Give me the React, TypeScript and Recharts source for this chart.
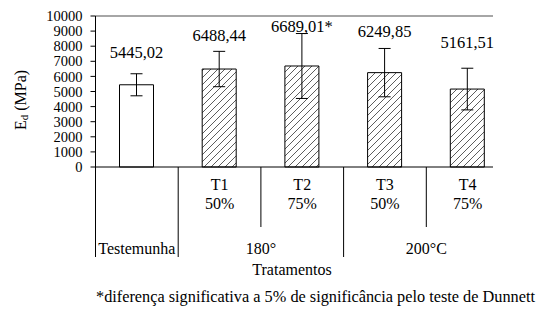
import React from "react";
import {
  BarChart,
  Bar,
  Cell,
  XAxis,
  YAxis,
  ErrorBar,
  LabelList,
  ReferenceLine,
} from "recharts";

const categories = ["Testemunha", "T1", "T2", "T3", "T4"];
const percents = ["", "50%", "75%", "50%", "75%"];
const temperatures = ["", "180°", "180°", "200°C", "200°C"];
const values = [5445.02, 6488.44, 6689.01, 6249.85, 5161.51];
const deviations = [730, 1170, 2150, 1600, 1380];
const significant = [false, false, true, false, false];
const yTicks = [0, 1000, 2000, 3000, 4000, 5000, 6000, 7000, 8000, 9000, 10000];

// how far each value label sits above its bar (the original places them by hand)
const labelLift = [32, 34, 39, 41, 47];

const FONT = "Liberation Serif";
// the original frame stops a little short of the last band
const FRAME_TRIM = 16;

const data = categories.map((name, i) => ({
  name,
  value: values[i],
  error: deviations[i],
  label: values[i].toFixed(2).replace(".", ",") + (significant[i] ? "*" : ""),
}));

function CategoryTick(props: any) {
  const { x, y, payload } = props;
  const i = payload.index;
  const half = payload.offset || 41.35;
  const n = categories.length;
  const longDrop = 90;
  const shortDrop = 60;
  const txt = { fontFamily: FONT, fontSize: 16, fill: "#000", textAnchor: "middle" as const, dominantBaseline: "central" as const };

  const parts: React.ReactNode[] = [];
  if (i === 0) {
    parts.push(<line key="l" x1={x - half} x2={x - half} y1={y} y2={y + longDrop} stroke="#000" />);
    parts.push(<text key="t" x={x} y={y + 81} {...txt}>{payload.value}</text>);
  } else {
    parts.push(<text key="t" x={x} y={y + 17} {...txt}>{payload.value}</text>);
    parts.push(<text key="p" x={x} y={y + 36} {...txt}>{percents[i]}</text>);
    if (temperatures[i - 1] === temperatures[i]) {
      parts.push(<text key="g" x={x - half} y={y + 81} {...txt}>{temperatures[i]}</text>);
    }
  }
  if (i < n - 1) {
    const drop = temperatures[i] === temperatures[i + 1] ? shortDrop : longDrop;
    parts.push(<line key="r" x1={x + half} x2={x + half} y1={y} y2={y + drop} stroke="#000" />);
  }
  return <g>{parts}</g>;
}

function ValueLabel(props: any) {
  const { x, y, width, index, value } = props;
  return (
    <text
      x={x + width / 2}
      y={y - labelLift[index]}
      textAnchor="middle"
      dominantBaseline="central"
      fontFamily={FONT}
      fontSize={16.5}
      fill="#000"
    >
      {value}
    </text>
  );
}

function YTitle() {
  return (
    <text
      transform="translate(20,100) rotate(-90)"
      textAnchor="middle"
      dominantBaseline="central"
      fontFamily={FONT}
      fontSize={16}
      fill="#000"
    >
      E<tspan fontSize={11} dy={4}>d</tspan>
      <tspan dy={-4}> (MPa)</tspan>
    </text>
  );
}

const trimmedLine = (color: string, w: number) => (p: any) => (
  <line x1={p.x1} y1={p.y1} x2={p.x2 - FRAME_TRIM} y2={p.y2} stroke={color} strokeWidth={w} />
);

export default function App() {
  return (
    <div style={{ position: "absolute", left: 0, top: 0, width: 539, height: 312, background: "#fff" }}>
      <BarChart
        width={539}
        height={312}
        data={data}
        margin={{ top: 16, right: 30, bottom: 0, left: 0 }}
      >
        <defs>
          <pattern id="hatch" width="7" height="7" patternUnits="userSpaceOnUse">
            <rect width="7" height="7" fill="#fff" />
            <path d="M0,7 L7,0 M-1,1 L1,-1 M6,8 L8,6" stroke="#333" strokeWidth={0.8} />
          </pattern>
        </defs>
        <XAxis
          dataKey="name"
          height={145}
          tickLine={false}
          tickSize={0}
          tickMargin={0}
          axisLine={false}
          tick={<CategoryTick />}
          interval={0}
        />
        <YAxis
          width={95.5}
          domain={[0, 10000]}
          ticks={yTicks}
          interval={0}
          tickSize={5}
          tickMargin={8}
          axisLine={{ stroke: "#000" }}
          tickLine={{ stroke: "#000" }}
          tick={{ fontFamily: FONT, fontSize: 14.5, fill: "#000" }}
          label={<YTitle />}
        />
        <ReferenceLine y={10000} shape={trimmedLine("#888", 1.5)} />
        <ReferenceLine y={0} shape={trimmedLine("#000", 1)} />
        <Bar dataKey="value" barSize={34} stroke="#000" strokeWidth={1} isAnimationActive={false}>
          {data.map((d, i) => (
            <Cell key={d.name} fill={i === 0 ? "#fff" : "url(#hatch)"} />
          ))}
          <ErrorBar dataKey="error" width={6} stroke="#000" strokeWidth={1} direction="y" />
          <LabelList dataKey="label" content={<ValueLabel />} />
        </Bar>
      </BarChart>
      <div
        style={{
          position: "absolute",
          left: 292,
          top: 261,
          transform: "translateX(-50%)",
          fontFamily: FONT,
          fontSize: 16,
          lineHeight: "18px",
          whiteSpace: "nowrap",
        }}
      >
        Tratamentos
      </div>
      <div
        style={{
          position: "absolute",
          left: 96,
          top: 288,
          fontFamily: FONT,
          fontSize: 16.3,
          lineHeight: "18px",
          whiteSpace: "nowrap",
        }}
      >
        *diferença significativa a 5% de significância pelo teste de Dunnett
      </div>
    </div>
  );
}
